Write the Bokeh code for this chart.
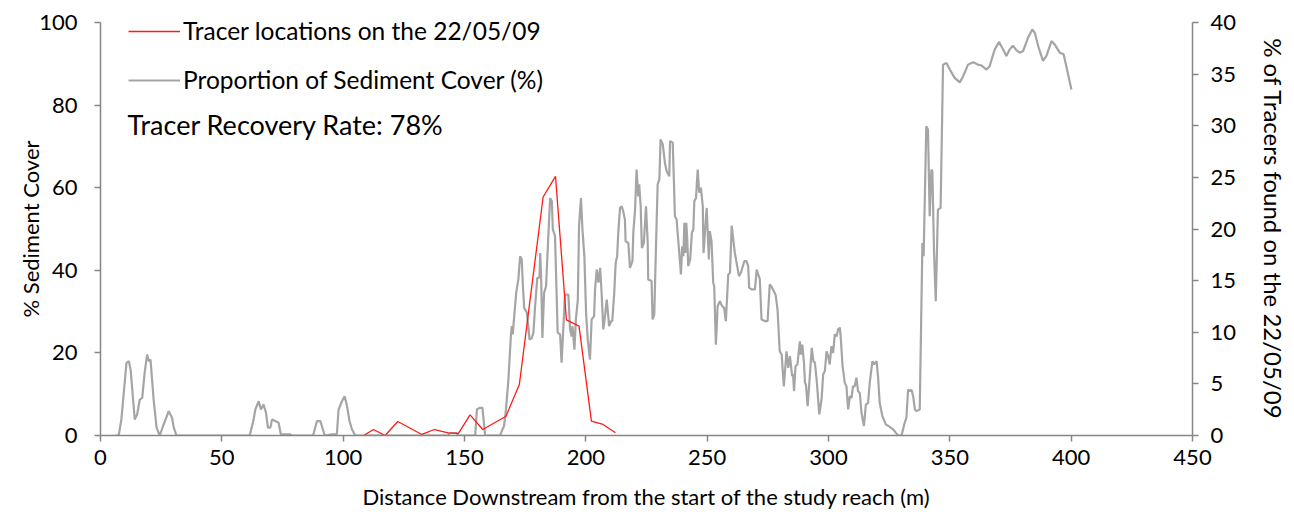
from bokeh.plotting import figure
from bokeh.models import Range1d, LinearAxis, Legend, LegendItem, Label, FixedTicker
from bokeh.embed import file_html
from bokeh.resources import INLINE

# ---- data ----
x_cover = [6, 7.5, 8.6, 10.7, 11.7, 12.4, 14.1, 15.1, 16.2, 17.2, 18.2, 19.2, 19.9, 20.6, 21.9, 23.1, 24.4, 25.8,
           28.1, 29.5, 30.2, 31.3, 61.5, 63.1, 63.8, 65.2, 66.1, 67.2, 68.2, 69.0, 70.0, 70.7, 72.0, 73.4, 74.4,
           75.2, 78.2, 78.8, 87.6, 89.2, 90.6, 92.4, 95.4, 97.4, 98.1, 99.5, 100.6, 101.6, 102.6, 103.6, 105.0,
           143.3, 143.8, 146.6, 147.5, 154.4, 155.1, 156.2, 157.4, 158.5, 164.7, 165.3, 166.3, 167.1, 168.1, 169.1,
           169.5, 169.9, 170.2, 171.3, 172.2, 172.9, 173.6, 174.0, 174.6, 175.7, 176.3, 176.8, 177.7, 178.4, 179.1,
           180.0, 180.9, 181.2, 181.6, 182.1, 182.8, 183.6, 184.6, 185.3, 186.0, 186.4, 187.3, 188.4, 189.4, 190.0,
           190.7, 191.4, 192.8, 193.5, 194.2, 194.5, 195.3, 195.9, 196.7, 197.2, 198.0, 198.6, 199.4, 200.1, 200.8,
           201.7, 202.4, 203.4, 203.8, 204.5, 205.2, 205.9, 206.5, 207.2, 207.9, 208.6, 209.0, 209.6, 210.4, 210.9,
           211.7, 212.3, 212.9, 213.4, 214.1, 214.8, 215.4, 216.1, 216.4, 217.5, 218.2, 219.2, 219.6, 220.3, 220.9,
           221.6, 222.0, 222.6, 223.1, 223.9, 224.8, 225.5, 225.7, 227.1, 227.5, 228.2, 229.2, 229.6, 230.3, 230.8,
           231.7, 232.6, 233.3, 234.4, 234.7, 235.8, 236.3, 236.7, 237.4, 238.5, 239.2, 239.7, 240.2, 240.6, 241.0,
           241.4, 241.8, 242.2, 243.0, 243.7, 244.3, 244.7, 245.4, 246.1, 246.7, 247.4, 248.2, 248.5, 249.8, 250.7,
           251.1, 251.8, 252.5, 252.9, 253.6, 254.3, 255.2, 256.2, 257.0, 257.7, 258.3, 258.7, 259.4, 260.1, 261.4,
           263.1, 263.9, 265.3, 266.2, 266.9, 267.3, 268.3, 269.7, 270.4, 271.7, 272.4, 273.8, 274.9, 275.8, 276.5,
           278.2, 279.0, 279.9, 280.7, 281.6, 282.7, 283.4, 284.1, 284.5, 285.0, 285.4, 285.8, 286.4, 287.2, 288.2,
           288.6, 289.2, 289.9, 290.3, 290.7, 291.4, 292.0, 293.1, 293.8, 294.4, 295.1, 296.2, 297.2, 297.8, 298.5,
           299.2, 299.9, 300.5, 301.2, 301.9, 302.6, 303.3, 304.0, 304.7, 305.1, 305.8, 306.7, 307.4, 308.1, 308.8,
           309.5, 310.1, 310.8, 311.5, 312.2, 312.9, 313.6, 314.6, 315.4, 316.3, 317.0, 318.1, 318.8, 319.8, 320.4,
           321.1, 322.2, 323.6, 325.2, 326.6, 327.7, 328.7, 330.1, 331.4, 332.1, 332.8, 333.5, 334.2, 334.9, 335.6,
           336.2, 337.6, 338.7, 339.2, 340.3, 341.0, 341.7, 342.4, 342.8, 343.5, 344.2, 345.1, 346.2, 347.2, 348.6,
           350.0, 352.0, 354.1, 355.5, 357.5, 359.6, 361.6, 363.0, 365.1, 366.4, 368.5, 370.3, 371.9, 373.3, 374.7,
           376.0, 377.4, 378.8, 380.2, 382.2, 384.0, 385.0, 386.4, 388.4, 389.8, 391.9, 393.2, 395.3, 396.9, 398.3,
           400.1]
cover = [0, 0, 3.9, 17.6, 18.0, 16.0, 3.9, 5.1, 8.7, 9.1, 15.2, 19.6, 18.0, 18.4, 8.7, 1.9, 0, 2.3,
         5.9, 4.3, 1.9, 0, 0, 3.9, 6.3, 8.3, 6.3, 7.5, 5.5, 1.9, 1.9, 3.9, 3.5, 3.1, 0,
         0.3, 0.3, 0, 0, 3.5, 3.5, 0, 0.3, 0.3, 6.3, 8.3, 9.5, 7.1, 3.5, 1.5, 0,
         0, 0.6, 0.6, 0, 0, 6.3, 6.7, 6.7, 0, 0, 1.0, 2.3, 6.3, 13.6, 24.0,
         26.5, 24.5, 26.9, 34.5, 37.8, 43.4, 42.6, 37.0, 30.9, 29.7, 26.5, 23.2, 23.6, 24.9, 31.3,
         38.2, 38.2, 44.2, 37.8, 23.6, 34.5, 36.1, 49.1, 57.5, 56.7, 49.9, 48.3, 24.9, 24.5, 17.6,
         25.7, 34.1, 34.1, 25.7, 24.0, 26.5, 20.8, 28.1, 32.9, 50.7, 57.5, 49.9, 43.4, 29.7, 23.2,
         18.4, 28.1, 28.9, 35.4, 40.2, 37.0, 40.6, 34.5, 25.7, 28.9, 32.9, 30.5, 26.5, 27.7, 27.7,
         34.5, 41.8, 43.4, 49.5, 55.1, 55.5, 54.3, 52.3, 47.0, 46.6, 40.6, 42.2, 49.5, 54.7, 64.4,
         57.9, 60.8, 55.5, 45.4, 46.6, 55.5, 46.6, 37.8, 37.4, 28.1, 29.3, 52.3, 60.8, 62.0, 71.7,
         70.5, 66.0, 64.0, 62.8, 71.3, 70.9, 61.6, 53.1, 52.3, 44.2, 39.0, 45.8, 43.4, 51.5, 44.2,
         51.5, 47.5, 41.0, 42.6, 49.1, 49.9, 56.7, 57.5, 64.4, 58.8, 60.0, 55.5, 44.2, 55.1, 42.6,
         49.5, 47.0, 37.0, 36.1, 22.0, 31.3, 32.5, 31.3, 30.9, 27.7, 34.5, 39.0, 39.4, 50.8, 44.2,
         38.6, 39.4, 42.2, 42.2, 41.0, 35.8, 35.4, 35.4, 40.2, 37.8, 28.1, 27.7, 27.7, 36.6, 36.1,
         34.1, 30.5, 20.4, 19.6, 11.9, 20.4, 16.4, 19.2, 17.2, 14.4, 14.8, 10.7, 16.8, 17.2, 22.8,
         19.6, 22.0, 17.6, 12.8, 12.3, 7.1, 11.9, 21.2, 18.0, 17.6, 13.6, 5.1, 9.1, 14.8, 15.6,
         20.4, 19.2, 17.2, 21.6, 20.0, 24.5, 24.0, 25.7, 26.1, 23.2, 16.8, 12.8, 11.9, 6.3, 9.5,
         9.1, 11.9, 11.9, 14.0, 10.7, 10.3, 5.5, 2.3, 7.5, 7.9, 12.8, 18.0, 17.2, 18.0, 14.4,
         7.9, 4.7, 2.7, 2.1, 1.5, 0.7, 0, 0, 3.1, 4.3, 11.1, 10.7, 11.1, 9.5, 6.3,
         5.9, 6.3, 46.6, 43.4, 74.9, 74.1, 53.1, 64.4, 64.0, 44.2, 32.5, 54.7, 55.1, 89.8, 90.2,
         88.6, 86.6, 85.5, 87.0, 89.8, 90.4, 89.8, 89.6, 88.6, 89.4, 93.5, 95.3, 93.5, 91.9, 93.5,
         94.4, 93.3, 92.7, 93.1, 96.3, 98.3, 97.5, 94.3, 90.7, 91.9, 95.5, 94.7, 92.7, 92.3, 88.6,
         83.8]

x_tracer = [108.4, 112.5, 117.3, 122.5, 132.4, 137.6, 143.3, 147.5, 152.3, 157.5, 167.1, 172.6, 182.4, 187.5,
            192.0, 197.2, 202.3, 207.1, 212.2]
tracer_pct = [0, 0.58, 0, 1.36, 0.1, 0.58, 0.26, 0.2, 2.0, 0.58, 1.87, 4.94, 23.1, 25.1,
              11.2, 10.6, 1.4, 1.07, 0.26]

x_ticks = [0, 50, 100, 150, 200, 250, 300, 350, 400, 450]
left_ticks = [0, 20, 40, 60, 80, 100]
right_ticks = [0, 5, 10, 15, 20, 25, 30, 35, 40]

FONT = "Lato"
AXIS_COL = "#868686"

p = figure(frame_width=1092, frame_height=413, output_backend="svg", toolbar_location=None,
           x_range=Range1d(0, 450), y_range=Range1d(0, 100),
           min_border_left=100, min_border_right=80, min_border_top=22, min_border_bottom=70,
           outline_line_color=None, background_fill_color="white", border_fill_color="white")
p.extra_y_ranges = {"right": Range1d(0, 40)}
p.grid.visible = False

r_cover = p.line(x_cover, cover, line_color="#A5A5A5", line_width=2.2)
r_tracer = p.line(x_tracer, tracer_pct, line_color="#FF1A1A", line_width=1.3, y_range_name="right")

right_axis = LinearAxis(y_range_name="right")
p.add_layout(right_axis, "right")

for ax in [p.xaxis[0], p.yaxis[0], right_axis]:
    ax.axis_line_color = AXIS_COL
    ax.axis_line_width = 1.5
    ax.major_tick_line_color = AXIS_COL
    ax.major_tick_line_width = 1.5
    ax.major_tick_in = 0
    ax.major_tick_out = 6
    ax.minor_tick_line_color = None
    ax.major_label_text_font = FONT
    ax.major_label_text_font_size = "22px"
    ax.major_label_text_color = "black"
    ax.axis_label_text_font = FONT
    ax.axis_label_text_font_size = "22px"
    ax.axis_label_text_font_style = "normal"
    ax.axis_label_text_color = "black"

right_axis.axis_label_text_font_size = "24px"

p.xaxis[0].ticker = FixedTicker(ticks=x_ticks)
p.yaxis[0].ticker = FixedTicker(ticks=left_ticks)
right_axis.ticker = FixedTicker(ticks=right_ticks)

p.xaxis[0].axis_label = "Distance Downstream from the start of the study reach (m)"
p.yaxis[0].axis_label = "% Sediment Cover"
right_axis.axis_label = "% of Tracers found on the 22/05/09"
p.xaxis[0].major_label_standoff = 8
p.yaxis[0].major_label_standoff = 17
right_axis.major_label_standoff = 12
p.xaxis[0].axis_label_standoff = 15
p.yaxis[0].axis_label_standoff = -8
right_axis.axis_label_standoff = 20

legend = Legend(items=[LegendItem(label="Tracer locations on the 22/05/09", renderers=[r_tracer]),
                       LegendItem(label="Proportion of Sediment Cover (%)", renderers=[r_cover])],
                location=(28, 341), orientation="vertical",
                glyph_width=52, glyph_height=26, label_height=26, spacing=20,
                padding=0, margin=0, label_standoff=3,
                label_text_font=FONT, label_text_font_size="24.5px", label_text_color="black",
                label_text_line_height=1.0,
                border_line_color=None, background_fill_alpha=0)
p.add_layout(legend)

p.add_layout(Label(x=27, y=311, x_units="screen", y_units="screen", text="Tracer Recovery Rate: 78%",
                   text_font=FONT, text_font_size="27px", text_color="black",
                   text_baseline="middle", text_align="left"))

open("out.html", "w").write(file_html(p, INLINE))
